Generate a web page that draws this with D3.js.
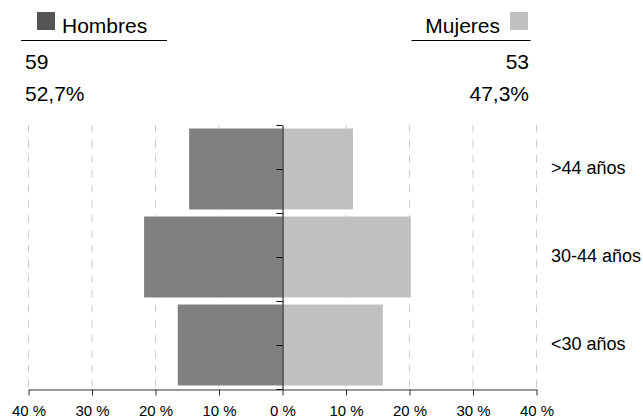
<!DOCTYPE html>
<html><head><meta charset="utf-8">
<script src="https://cdn.jsdelivr.net/npm/d3@7"></script>
<style>
html,body{margin:0;padding:0;background:#fff;}
svg{display:block;font-family:"Liberation Sans",Arial,sans-serif;}
</style></head>
<body><div id="chart"></div>
<script>
const categories = [">44 años", "30-44 años", "<30 años"];
const hombres = [14.7, 21.8, 16.5];
const mujeres = [11.1, 20.2, 15.8];
const seriesNames = ["Hombres", "Mujeres"];
const totals = [59, 53];
const totalPct = ["52,7%", "47,3%"];
const xTicks = [-40, -30, -20, -10, 0, 10, 20, 30, 40];

const W = 643, H = 420;
const svg = d3.select("#chart").append("svg").attr("width", W).attr("height", H);

const x = d3.scaleLinear().domain([-40, 40]).range([28.5, 536.5]);
const y = d3.scaleBand().domain(categories).range([125, 389]).paddingInner(0.08).paddingOuter(0.04);
const yT = d3.scaleLinear().domain([0, 3]).range([125, 389]);

// grid
svg.append("g").selectAll("line").data(xTicks.filter(d => d !== 0)).join("line")
  .attr("x1", d => x(d)).attr("x2", d => x(d)).attr("y1", 125).attr("y2", 389)
  .attr("stroke", "#cccccc").attr("stroke-width", 1).attr("stroke-dasharray", "7.5,7.5");

// bars
svg.append("g").selectAll("rect").data(categories).join("rect")
  .attr("x", (d, i) => x(-hombres[i])).attr("width", (d, i) => x(0) - x(-hombres[i]))
  .attr("y", d => y(d)).attr("height", y.bandwidth()).attr("fill", "#808080");
svg.append("g").selectAll("rect").data(categories).join("rect")
  .attr("x", x(0)).attr("width", (d, i) => x(mujeres[i]) - x(0))
  .attr("y", d => y(d)).attr("height", y.bandwidth()).attr("fill", "#c0c0c0");

// x axis
const xa = svg.append("g").attr("transform", "translate(0,389.5)")
  .call(d3.axisBottom(x).tickValues(xTicks).tickSize(6).tickSizeOuter(0).tickFormat(d => Math.abs(d) + " %"));
xa.select(".domain").attr("stroke", "#333");
xa.selectAll(".tick line").attr("stroke", "#333");
xa.selectAll("text").attr("font-size", 15).attr("fill", "#000").attr("y", 15.5)
  .attr("font-family", "Liberation Sans, Arial, sans-serif");

// y axis
const ya = svg.append("g").attr("transform", "translate(" + x(0) + ",0)")
  .call(d3.axisLeft(yT).tickValues(d3.range(0, 3.01, 0.5)).tickSize(6).tickSizeOuter(0).tickFormat(""));
ya.select(".domain").attr("stroke", "#000");
ya.selectAll(".tick line").attr("stroke", "#000");

// category labels
svg.append("g").selectAll("text").data(categories).join("text")
  .attr("x", 551).attr("y", d => y(d) + y.bandwidth() / 2)
  .attr("dominant-baseline", "middle").attr("font-size", 18).attr("fill", "#000")
  .text(d => d);

// header
const hdr = svg.append("g").attr("font-size", 21).attr("fill", "#000");
// Hombres
hdr.append("rect").attr("x", 37).attr("y", 12).attr("width", 18).attr("height", 18).attr("fill", "#555555");
hdr.append("text").attr("x", 62).attr("y", 33).text(seriesNames[0]);
hdr.append("line").attr("x1", 21).attr("x2", 167).attr("y1", 40.5).attr("y2", 40.5).attr("stroke", "#000").attr("stroke-width", 1);
hdr.append("text").attr("x", 25).attr("y", 68.5).text(totals[0]);
hdr.append("text").attr("x", 25).attr("y", 100.5).text(totalPct[0]);
// Mujeres
hdr.append("rect").attr("x", 510).attr("y", 12).attr("width", 18).attr("height", 18).attr("fill", "#c0c0c0");
hdr.append("text").attr("x", 500).attr("y", 33).attr("text-anchor", "end").text(seriesNames[1]);
hdr.append("line").attr("x1", 411.5).attr("x2", 530.5).attr("y1", 40.5).attr("y2", 40.5).attr("stroke", "#000").attr("stroke-width", 1);
hdr.append("text").attr("x", 529).attr("y", 68.5).attr("text-anchor", "end").text(totals[1]);
hdr.append("text").attr("x", 529).attr("y", 100.5).attr("text-anchor", "end").text(totalPct[1]);
</script></body></html>
